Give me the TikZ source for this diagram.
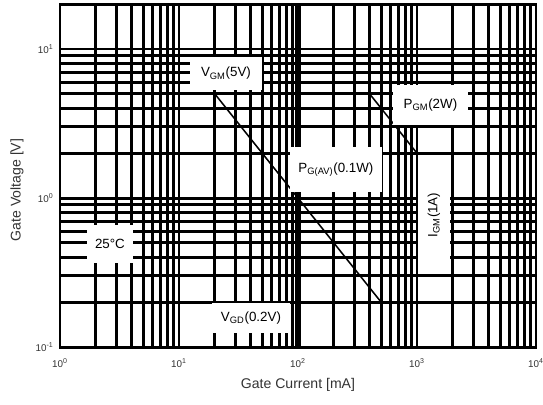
\documentclass[tikz,border=0pt]{standalone}
\usepackage{fontspec}
\setmainfont{Liberation Sans}
\usetikzlibrary{positioning}
\tikzset{x=2.975cm, y=3.725cm, % one decade of current / of voltage
gridline/.style={ % Sets the look of the log grid
line width=2.1pt},
decade/.style={ % Extra heavy line at 100 mA
line width=4.3pt},
frame/.style={line width=2.1pt},
limit/.style={ % Rating lines
line width=1.1pt},
rating/.style={ % White boxes over the grid
fill=white, inner sep=1pt,
font=\fontsize{9.5}{11}\selectfont},
ticklabel/.style={font=\fontsize{7}{8}\selectfont, inner sep=1pt, text=black!80},
axislabel/.style={font=\fontsize{10}{12}\selectfont, text=black!80}}

\begin{document}
\begin{tikzpicture}
    \useasboundingbox (-0.504,-0.389) rectangle (4.059,2.329);
    % grid
    \foreach \d in {0,1,2,3}
      \foreach \k in {2,...,9}
        \draw[gridline] ({\d+log10(\k)},0) -- ({\d+log10(\k)},2.301);
    \foreach \d in {1,3}
      \draw[gridline] (\d,0) -- (\d,2.301);
    \draw[decade] (2,0) -- (2,2.301);
    \foreach \d in {0,1}
      \foreach \k in {2,...,9}
        \draw[gridline] (0,{\d+log10(\k)}) -- (4,{\d+log10(\k)});
    \foreach \d in {1,2}
      \draw[gridline] (0,\d) -- (4,\d);
    \draw[frame] (0,0) rectangle (4,2.301);
    % rating lines
    \coordinate (av1) at (1.301,1.699);
    \coordinate (av2) at (2.699,0.301);
    \coordinate (gm1) at (2.602,1.699);
    \coordinate (gm2) at (3,1.301);
    \draw[limit] (av1) -- (av2);
    \draw[limit] (gm1) -- (gm2);
    % labels
    \node[rating, minimum width=1.8cm, minimum height=0.83cm] (vgm) at (1.395,1.836) {V\textsubscript{GM}(5V)};
    \node[rating, minimum width=1.88cm, minimum height=1.0cm] (pgm) at (3.113,1.624) {P\textsubscript{GM}(2W)};
    \node[rating, minimum width=2.3cm, minimum height=1.12cm] (pav) at (2.319,1.191) {P\textsubscript{G(AV)}(0.1W)};
    \node[rating, rotate=90, minimum width=2.9cm, minimum height=0.8cm] (igm) at (3.143,0.886) {I\textsubscript{GM}(1A)};
    \node[rating, minimum width=1.15cm, minimum height=0.95cm] (temp) at (0.42,0.691) {25°C};
    \node[rating, minimum width=1.95cm, minimum height=0.75cm] (vgd) at (1.605,0.195) {V\textsubscript{GD}(0.2V)};
    % axes
    \foreach \d in {0,...,4}
      \node[ticklabel] (x\d) at (\d,-0.107) {10\textsuperscript{\d}};
    \node[ticklabel, anchor=east] (ym) at (-0.04,0) {10\textsuperscript{-1}};
    \node[ticklabel, anchor=east] (y0) at (-0.04,1) {10\textsuperscript{0}};
    \node[ticklabel, anchor=east] (y1) at (-0.04,2) {10\textsuperscript{1}};
    \node[axislabel] (xlab) at (2,-0.255) {Gate Current [mA]};
    \node[axislabel, rotate=90] (ylab) at (-0.361,1.054) {Gate Voltage [V]};
  \end{tikzpicture}
\end{document}
